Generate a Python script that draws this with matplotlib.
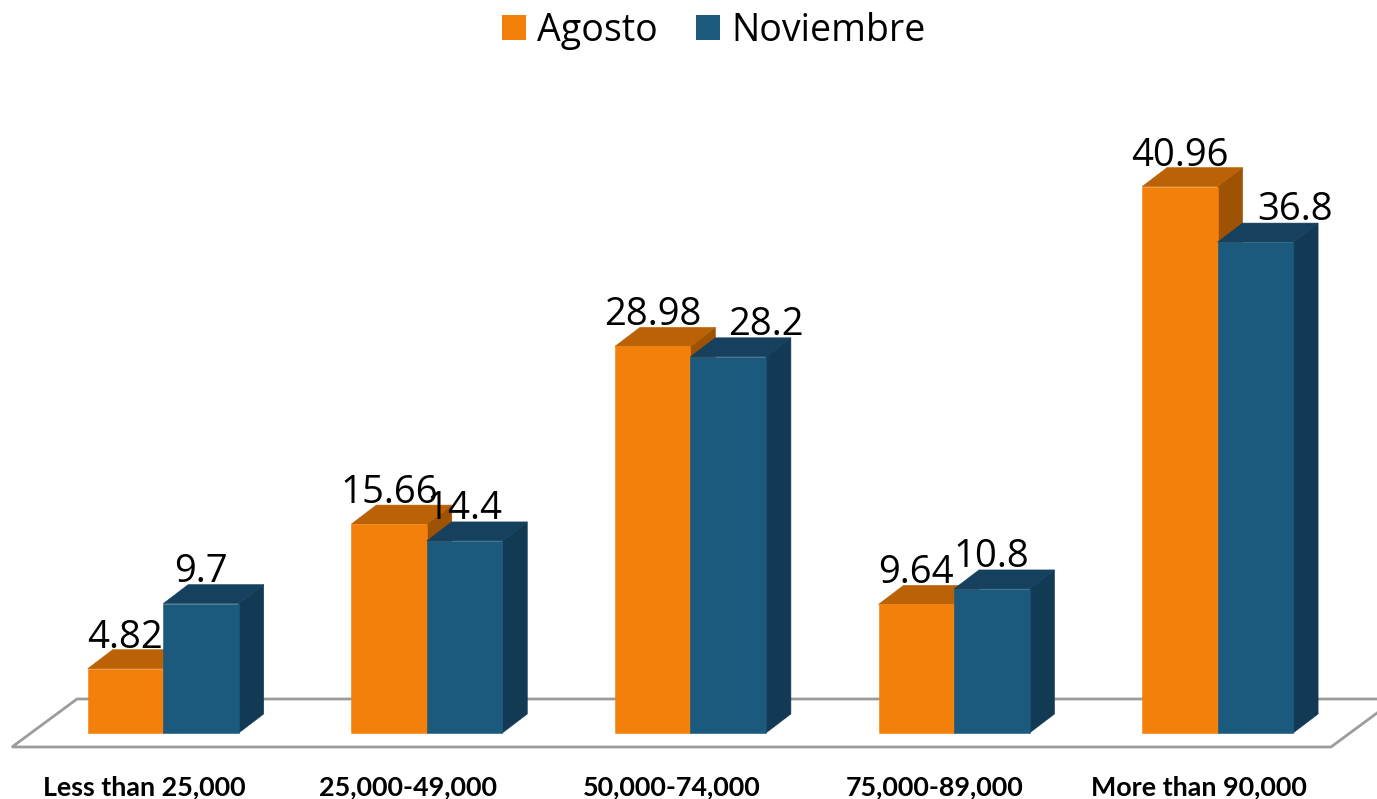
import matplotlib.pyplot as plt
from matplotlib.patches import Patch, Polygon

categories = ["Less than 25,000", "25,000-49,000", "50,000-74,000", "75,000-89,000", "More than 90,000"]
agosto = [4.82, 15.66, 28.98, 9.64, 40.96]
noviembre = [9.7, 14.4, 28.2, 10.8, 36.8]
agosto_labels = ["4.82", "15.66", "28.98", "9.64", "40.96"]
noviembre_labels = ["9.7", "14.4", "28.2", "10.8", "36.8"]

# pixel scale of the picture
PX_X = 263.6
PX_Y = 13.34
X0 = 163.2
Y0 = 733

bar_w = 75.5 / PX_X
depth_x = 25 / PX_X
depth_y = 19 / PX_Y

orange = ("#F2800A", "#BA6205", "#9E5203")
blue = ("#1B5A7D", "#15405E", "#123A54")


def bar3d(ax, x, h, cols):
    front, top, side = cols
    ax.add_patch(Polygon([(x + bar_w, 0), (x + bar_w + depth_x, depth_y), (x + bar_w + depth_x, h + depth_y), (x + bar_w, h)],
                         fc=side, ec=side, lw=0.4))
    ax.add_patch(Polygon([(x, h), (x + bar_w, h), (x + bar_w + depth_x, h + depth_y), (x + depth_x, h + depth_y)],
                         fc=top, ec=top, lw=0.4))
    ax.add_patch(Polygon([(x, 0), (x + bar_w, 0), (x + bar_w, h), (x, h)], fc=front, ec=front, lw=0.4))


fig = plt.figure(figsize=(13.77, 7.99), dpi=100)
ax = fig.add_axes([0, 0, 1, 1])
ax.set_xlim(-X0 / PX_X, (1377 - X0) / PX_X)
ax.set_ylim((Y0 - 799) / PX_Y, Y0 / PX_Y)
ax.axis("off")

# floor
fl = -14 / PX_Y
bk = 34 / PX_Y
floor = Polygon([((12 - X0) / PX_X, fl), ((1331 - X0) / PX_X, fl), ((1396 - X0) / PX_X, bk), ((77 - X0) / PX_X, bk)],
                closed=True, fc="white", ec="#9C9C9C", lw=2)
ax.add_patch(floor)

for i in range(len(categories)):
    bar3d(ax, i - bar_w, agosto[i], orange)
    bar3d(ax, i, noviembre[i], blue)

label_shift = [0, 0, 38, 0, 40]
for i in range(len(categories)):
    ax.text(i - bar_w / 2, agosto[i] + depth_y + 2 / PX_Y, agosto_labels[i], ha="center", va="baseline",
            fontsize=27.5, family="Open Sans", color="black", zorder=5)
    ax.text(i + bar_w / 2 + label_shift[i] / PX_X, noviembre[i] + depth_y + 3 / PX_Y, noviembre_labels[i], ha="center",
            va="baseline", fontsize=27.5, family="Open Sans", color="black", zorder=5)
    ax.text(i - 19 / PX_X, (Y0 - 795) / PX_Y, categories[i], ha="center", va="baseline", fontsize=19.4,
            family="Lato", fontweight="bold", color="black")

handles = [Patch(fc=orange[0], label="Agosto"), Patch(fc=blue[0], label="Noviembre")]
ax.legend(handles=handles, loc="upper center", bbox_to_anchor=(0.5185, 1.018), ncol=2, frameon=False,
          prop={"family": "Open Sans", "size": 27}, handlelength=0.64, handleheight=0.64,
          handletextpad=0.3, columnspacing=1.03, borderpad=0.2)

fig.savefig("out.png", dpi=100)
